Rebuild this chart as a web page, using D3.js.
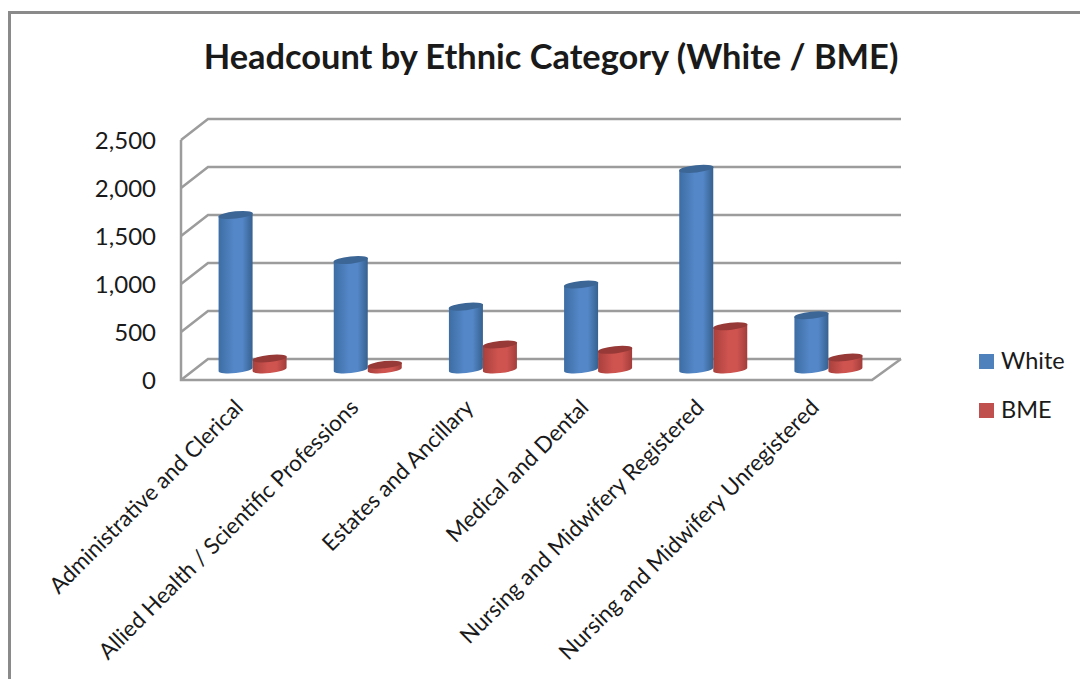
<!DOCTYPE html>
<html>
<head>
<meta charset="utf-8">
<script src="https://cdnjs.cloudflare.com/ajax/libs/d3/7.8.5/d3.min.js"></script>
<style>
  html, body { margin: 0; padding: 0; background: #fff; }
  svg { display: block; }
  text { font-family: Lato, "Open Sans", sans-serif; fill: #1a1a1a; }
</style>
</head>
<body>
<svg id="chart" width="1080" height="679"></svg>
<script>
// Staff headcount per professional group, split by ethnic category
const categories = [
  "Administrative and Clerical",
  "Allied Health / Scientific Professions",
  "Estates and Ancillary",
  "Medical and Dental",
  "Nursing and Midwifery Registered",
  "Nursing and Midwifery Unregistered"
];
const whiteValues = [1610, 1140, 655, 885, 2090, 565];
const bmeValues = [115, 50, 260, 205, 450, 125];
const seriesNames = ["White", "BME"];
const yTicks = [0, 500, 1000, 1500, 2000, 2500];

const svg = d3.select("#chart");
const width = 1080, height = 679;

// Front plane of the 3D box and the depth offset towards the back wall
const front = { left: 181, right: 872, bottom: 380, top: 140 };
const depth = { dx: 27, dy: -21 };

const y = d3.scaleLinear().domain([0, 2500]).range([front.bottom, front.top]);
const x = d3.scaleBand().domain(categories).range([front.left, front.right]);
const barW = 34;
const ry = 3.6;
const tilt = -6;

// Horizontal shading that gives the columns their cylindrical look
const defs = svg.append("defs");
function cylinderGradient(id, edgeL, mid, edgeR) {
  const g = defs.append("linearGradient").attr("id", id);
  g.append("stop").attr("offset", "0%").attr("stop-color", edgeL);
  g.append("stop").attr("offset", "45%").attr("stop-color", mid);
  g.append("stop").attr("offset", "70%").attr("stop-color", mid);
  g.append("stop").attr("offset", "100%").attr("stop-color", edgeR);
}
cylinderGradient("gradWhite", "#3d6da3", "#5487c8", "#36618f");
cylinderGradient("gradBme", "#a8403c", "#cf5450", "#a23d3a");

const colors = {
  White: { fill: "url(#gradWhite)", top: "#3c6695", key: "#4f81bd" },
  BME: { fill: "url(#gradBme)", top: "#973a37", key: "#c0504d" }
};

// Outer chart frame
svg.append("path")
  .attr("d", `M9.5,679 V12.5 H${width}`)
  .attr("fill", "none").attr("stroke", "#8a8a8a").attr("stroke-width", 3);

// Back wall gridlines and their continuation down the side wall
const wallColor = "#9c9c9c";
const grid = svg.append("g").attr("fill", "none").attr("stroke", wallColor).attr("stroke-width", 2.5);
grid.selectAll("path").data(yTicks).join("path")
  .attr("d", v => {
    const yy = y(v);
    return `M${front.left},${yy} L${front.left + depth.dx},${yy + depth.dy} H${front.right + depth.dx + 2}`;
  });

// Floor outline and the front vertical edge
grid.append("path")
  .attr("d", `M${front.left},${y(2500)} V${front.bottom} H${front.right} L${front.right + depth.dx + 2},${front.bottom + depth.dy}`);

// Value labels
svg.append("g").selectAll("text").data(yTicks).join("text")
  .attr("x", 156).attr("y", v => y(v) + 3)
  .attr("text-anchor", "end")
  .attr("dominant-baseline", "middle")
  .style("font-size", "24px")
  .text(d3.format(","));

// Columns: each sits halfway into the depth of the box
const colOffset = depth.dx / 2 + 0.5;
const rowOffset = depth.dy / 2;
const groups = svg.append("g").selectAll("g").data(categories).join("g")
  .attr("transform", c => `translate(${x(c) + x.bandwidth() / 2 + colOffset},${rowOffset})`);

function drawColumn(sel, name, values, offsetX) {
  const c = colors[name];
  const col = sel.append("g").attr("transform", `translate(${offsetX},0)`);
  const tx = barW / 2;
  const dyTilt = Math.tan(tilt * Math.PI / 180) * tx;
  col.append("path")
    .attr("fill", c.fill)
    .attr("d", (d, i) => {
      const yt = y(values[i]), yb = y(0);
      return `M${-tx},${yt - dyTilt} L${-tx},${yb - dyTilt}` +
        ` A${tx},${ry} ${tilt} 0 0 ${tx},${yb + dyTilt}` +
        ` L${tx},${yt + dyTilt} Z`;
    });
  col.append("ellipse")
    .attr("rx", tx + 0.3).attr("ry", ry)
    .attr("fill", c.top)
    .attr("transform", (d, i) => `translate(0,${y(values[i])}) rotate(${tilt})`);
}
drawColumn(groups, "BME", bmeValues, barW / 2);
drawColumn(groups, "White", whiteValues, -barW / 2);

// Category labels, rotated and anchored under each group
svg.append("g").selectAll("text").data(categories).join("text")
  .attr("text-anchor", "end")
  .attr("transform", c => `translate(${x(c) + x.bandwidth() / 2 + 6},${front.bottom + 29}) rotate(-45)`)
  .style("font-size", "22.4px")
  .text(c => c);

// Title
svg.append("text")
  .attr("x", 551).attr("y", 69)
  .attr("text-anchor", "middle")
  .style("font-size", "34.4px").style("font-weight", "700")
  .text("Headcount by Ethnic Category (White / BME)");

// Legend
const legend = svg.append("g").selectAll("g").data(seriesNames).join("g")
  .attr("transform", (d, i) => `translate(979,${354 + i * 49})`);
legend.append("rect").attr("width", 15).attr("height", 15)
  .attr("fill", d => colors[d].key);
legend.append("text").attr("x", 22).attr("y", 15)
  .style("font-size", "23.5px").text(d => d);
</script>
</body>
</html>
